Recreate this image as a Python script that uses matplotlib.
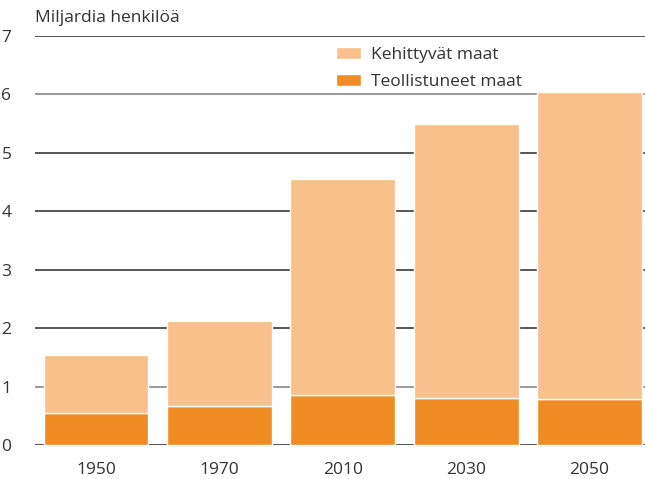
import matplotlib.pyplot as plt
import numpy as np

plt.rcParams['font.family'] = ['Open Sans', 'DejaVu Sans']

years = ['1950', '1970', '2010', '2030', '2050']
teollistuneet = [0.55, 0.67, 0.86, 0.81, 0.78]
yhteensa = [1.54, 2.12, 4.56, 5.49, 6.04]
kehittyvat = [t - d for t, d in zip(yhteensa, teollistuneet)]

light = '#F8C08A'
dark = '#F08C24'
text_col = '#333333'

fig = plt.figure(figsize=(6.45, 4.79), dpi=100)
ax = fig.add_axes([35 / 645, 34 / 479, 610 / 645, 409 / 479])

x = np.arange(len(years))
ax.bar(x, teollistuneet, width=0.85, color=dark, edgecolor='white', linewidth=1,
       label='Teollistuneet maat', zorder=3)
ax.bar(x, kehittyvat, width=0.85, bottom=teollistuneet, color=light, edgecolor='white',
       linewidth=1, label='Kehittyvät maat', zorder=3)

for v in range(8):
    c = '#888888' if v in (1, 6) else '#3a3a3a'
    ax.axhline(v, color=c, linewidth=1.2, zorder=1)

ax.set_ylim(0, 7)
ax.set_xlim(-0.495, 4.45)
ax.set_yticks(range(8))
ax.set_xticks(x)
ax.set_xticklabels(years)
ax.tick_params(length=0, labelsize=12.5, colors=text_col)
ax.tick_params(axis='y', pad=17)
ax.tick_params(axis='x', pad=12)
for s in ax.spines.values():
    s.set_visible(False)

fig.text(35 / 645, 1 - 18 / 479, 'Miljardia henkilöä', fontsize=12.5, color=text_col,
         va='center', ha='left')

handles, labels = ax.get_legend_handles_labels()
leg = fig.legend(handles[::-1], labels[::-1], loc='upper left',
                 bbox_to_anchor=(320 / 645, 1 - 31 / 479), frameon=False,
                 fontsize=12.5, handlelength=1.45, handleheight=0.7, labelspacing=0.65,
                 handletextpad=0.6)
for t in leg.get_texts():
    t.set_color(text_col)

fig.savefig('out.png', dpi=100)
